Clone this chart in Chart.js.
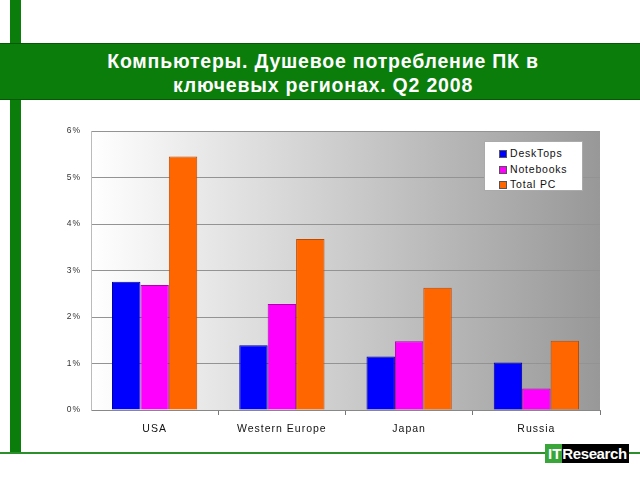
<!DOCTYPE html>
<html>
<head>
<meta charset="utf-8">
<script src="https://cdn.jsdelivr.net/npm/chart.js@4.4.1/dist/chart.umd.min.js"></script>
<style>
    body { margin: 0; width: 640px; height: 480px; background: #fff; position: relative; overflow: hidden; font-family: 'Liberation Sans', Arial, sans-serif; }
    #vbar { position: absolute; left: 10px; top: 0; width: 11px; height: 454px; background: #0b7d0b; }
    #hline { position: absolute; left: 0; top: 452px; width: 640px; height: 2px; background: #2b8f2b; }
    #band { position: absolute; left: -1px; top: 43px; width: 641px; height: 55px; background: #0b7d0b; border: 1px solid #045a04; box-sizing: content-box; }
    #title { position: absolute; left: 3px; top: 49px; width: 640px; text-align: center; color: #fff; font-weight: bold; font-size: 19.5px; letter-spacing: 0.8px; line-height: 24px; }
    #chartWrap { position: absolute; left: 0; top: 0; width: 640px; height: 480px; }
    #legend { position: absolute; left: 484px; top: 141px; width: 97px; height: 48px; background: #fff; border: 1px solid #aaa; font-size: 10.5px; letter-spacing: 0.8px; color: #111; }
    #legend div { position: absolute; left: 14px; height: 14px; line-height: 14px; }
    #legend span { display: inline-block; width: 8px; height: 8px; margin-right: 3px; border: 1px solid #555; box-sizing: border-box; vertical-align: -1px; }
    #logo { position: absolute; left: 545px; top: 444px; height: 19px; font-weight: bold; font-size: 15px; line-height: 19px; color: #fff; }
    #logo .it { display: inline-block; background: #3aa63a; padding: 0 1px 0 3px; }
    #logo .rs { display: inline-block; background: #000; padding: 0 2px 0 0; letter-spacing: -0.4px; }
</style>
</head>
<body>
<div id="vbar"></div>
<div id="hline"></div>
<div id="band"></div>
<div id="title">Компьютеры. Душевое потребление ПК в<br>ключевых регионах. Q2 2008</div>
<div id="chartWrap"><canvas id="mainChart" width="640" height="480"></canvas></div>
<div id="legend"></div>
<div id="logo"><span class="it">IT</span><span class="rs">Research</span></div>
<script>
const regions = ['USA', 'Western Europe', 'Japan', 'Russia'];
const seriesNames = ['DeskTops', 'Notebooks', 'Total PC'];
const desktops = [2.76, 1.39, 1.15, 1.02];
const notebooks = [2.69, 2.28, 1.48, 0.46];
const totalPC = [5.45, 3.68, 2.63, 1.49];
const yTicks = [0, 1, 2, 3, 4, 5, 6];

const colors = ['#0000ff', '#ff00ff', '#ff6600'];
const borders = ['#00009a', '#b000b0', '#c04a00'];

// plot background: white to grey, left to right
const plotBg = {
    id: 'plotBg',
    beforeDraw(chart) {
        const { ctx, chartArea: a } = chart;
        const g = ctx.createLinearGradient(a.left, 0, a.right, 0);
        g.addColorStop(0, '#ffffff');
        g.addColorStop(1, '#989898');
        ctx.save();
        ctx.fillStyle = g;
        ctx.fillRect(a.left, a.top, a.right - a.left, a.bottom - a.top);
        ctx.restore();
        ctx.letterSpacing = '1px';
    }
};

const ctx = document.getElementById('mainChart').getContext('2d');
new Chart(ctx, {
    type: 'bar',
    data: {
        labels: regions,
        datasets: [desktops, notebooks, totalPC].map((d, i) => ({
            label: seriesNames[i],
            data: d,
            backgroundColor: colors[i],
            borderColor: borders[i],
            borderWidth: 1,
            categoryPercentage: 0.67,
            barPercentage: 1
        }))
    },
    options: {
        responsive: false,
        animation: false,
        layout: { padding: { left: 61, right: 40, top: 131, bottom: 30 } },
        plugins: { legend: { display: false }, tooltip: { enabled: false } },
        scales: {
            x: {
                afterFit: s => { s.height = 40; },
                grid: {
                    offset: true,
                    drawOnChartArea: false,
                    tickLength: 5,
                    color: c => (c.index === 0 || c.index === regions.length) ? 'rgba(0,0,0,0)' : '#777'
                },
                border: { color: '#888' },
                ticks: { color: '#111', font: { family: "'Liberation Sans', Arial", size: 10.5 }, padding: 8 }
            },
            y: {
                min: 0,
                max: 6,
                afterFit: s => { s.width = 30; },
                afterBuildTicks: s => { s.ticks = yTicks.map(v => ({ value: v })); },
                grid: { color: '#939393', drawTicks: false },
                border: { color: '#bbb' },
                ticks: {
                    color: '#333',
                    padding: 10,
                    font: { family: "'Liberation Sans', Arial", size: 8.5 },
                    callback: v => v + '%'
                }
            }
        }
    },
    plugins: [plotBg]
});

// legend
const legend = document.getElementById('legend');
seriesNames.forEach((name, i) => {
    const row = document.createElement('div');
    row.style.top = (4 + i * 15.5) + 'px';
    row.innerHTML = '<span style="background:' + colors[i] + '"></span>' + name;
    legend.appendChild(row);
});
</script>
</body>
</html>
